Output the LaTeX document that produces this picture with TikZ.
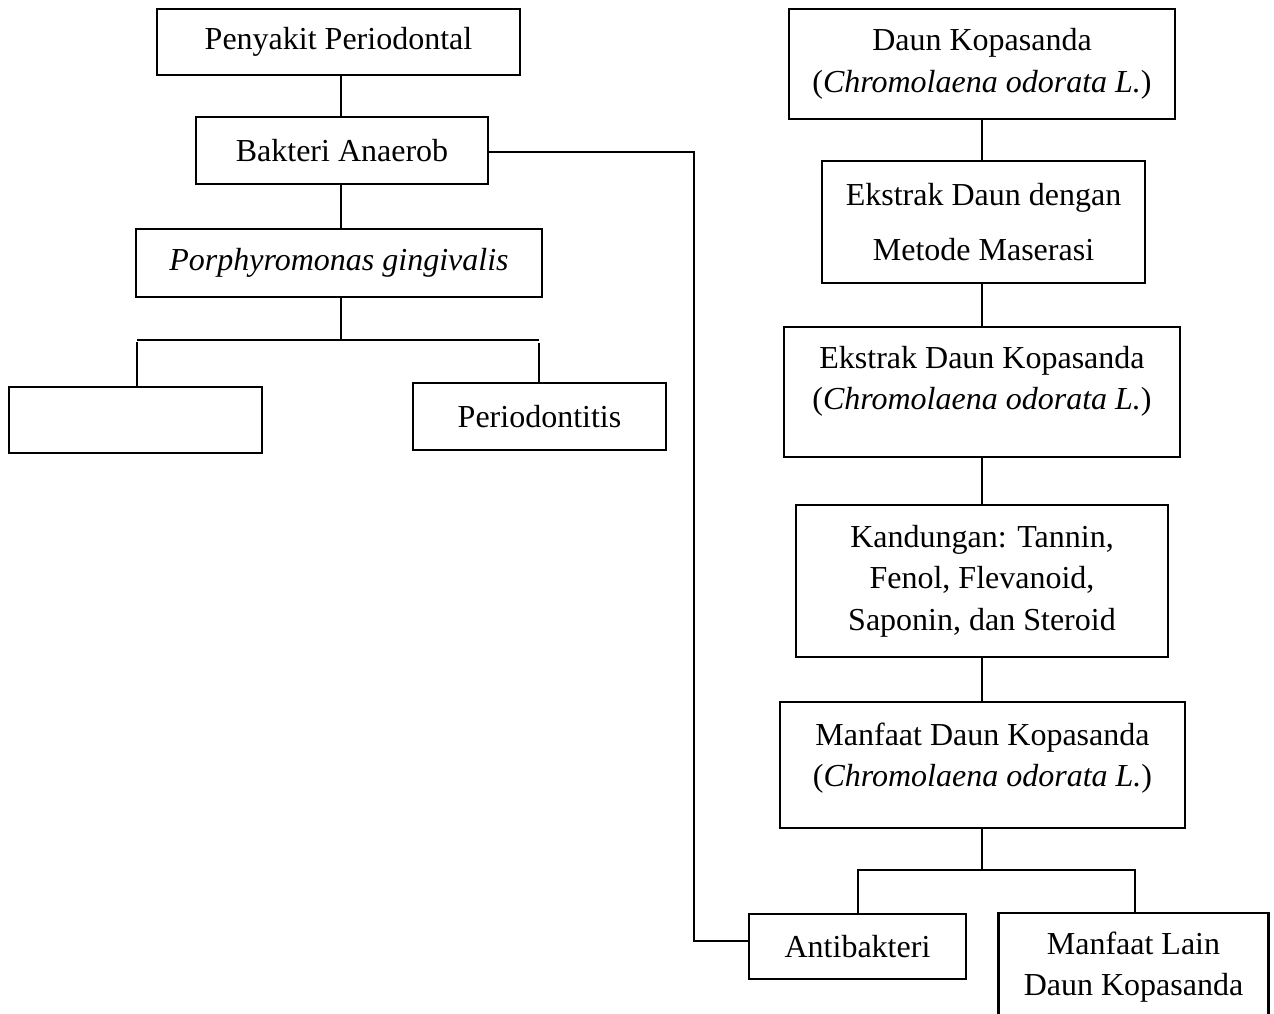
\documentclass[tikz,border=0pt]{standalone}
\usepackage{fontspec}
\setmainfont{Liberation Serif}
\begin{document}
\begin{tikzpicture}[x=1pt,y=-1pt,
  box/.style={draw, line width=2.9pt, inner sep=0pt, align=center,
    font=\fontsize{32}{41.5}\selectfont},
  conn/.style={line width=2.9pt, line join=miter}]
\useasboundingbox (0,0) rectangle (1274,1014);
% left column
\node[box, minimum width=363pt, minimum height=66pt] (pp) at (338.5,42) {Penyakit Periodontal};
\node[box, minimum width=292pt, minimum height=67pt] (ba) at (342,150.5) {Bakteri Anaerob};
\node[box, minimum width=406pt, minimum height=68pt] (pg) at (339,263) {\textit{Porphyromonas gingivalis}};
\node[box, minimum width=253pt, minimum height=66pt] (em) at (135.5,420) {};
\node[box, minimum width=253pt, minimum height=67pt] (pe) at (539.5,416.5) {Periodontitis};
% right column
\node[box, minimum width=386pt, minimum height=110pt] (dk) at (982,64) {Daun Kopasanda\\(\textit{Chromolaena odorata L.})};
\node[box, minimum width=323pt, minimum height=122pt] (mm) at (983.5,222) {Ekstrak Daun dengan\\[13.5pt]Metode Maserasi};
\node[box, minimum width=396pt, minimum height=130pt] (ek) at (982,392) {Ekstrak Daun Kopasanda\\(\textit{Chromolaena odorata L.})\\[-13pt]\mbox{}};
\node[box, minimum width=372pt, minimum height=152pt] (kd) at (982,581) {Kandungan: Tannin,\\Fenol, Flevanoid,\\Saponin, dan Steroid};
\node[box, minimum width=405pt, minimum height=126pt] (mf) at (982.5,765) {Manfaat Daun Kopasanda\\(\textit{Chromolaena odorata L.})\\[-21pt]\mbox{}};
\node[box, minimum width=217pt, minimum height=65pt] (ab) at (857.5,946.5) {Antibakteri};
\node[box, minimum width=270pt, minimum height=108.5pt] (ml) at (1133.5,967.25) {Manfaat Lain\\Daun Kopasanda};
% helper coordinates
\coordinate (cx) at (341,0);
\coordinate (bl) at (137,340);
\coordinate (br) at (539,340);
\coordinate (jx) at (694,152);
\coordinate (jy) at (694,941);
\coordinate (rx) at (982,0);
\coordinate (b2l) at (858,870);
\coordinate (b2r) at (1135,870);
% left connectors
\draw[conn] (pp.south -| cx) -- (ba.north -| cx);
\draw[conn] (ba.south -| cx) -- (pg.north -| cx);
\draw[conn] (pg.south -| cx) -- (cx |- bl);
\draw[conn] (bl) -- (br);
\draw[conn] ([yshift=-2pt]bl) -- (bl |- em.north);
\draw[conn] ([yshift=-3pt]br) -- (br |- pe.north);
\draw[conn] (ba.east |- jx) -- (jx) -- (jy) -- (jy -| ab.west);
% right connectors
\draw[conn] (dk.south -| rx) -- (mm.north -| rx);
\draw[conn] (mm.south -| rx) -- (ek.north -| rx);
\draw[conn] (ek.south -| rx) -- (kd.north -| rx);
\draw[conn] (kd.south -| rx) -- (mf.north -| rx);
\draw[conn] (mf.south -| rx) -- (rx |- b2l);
\draw[conn] (b2l |- ab.north) -- (b2l) -- (b2r) -- (b2r |- ml.north);
\end{tikzpicture}
\end{document}
